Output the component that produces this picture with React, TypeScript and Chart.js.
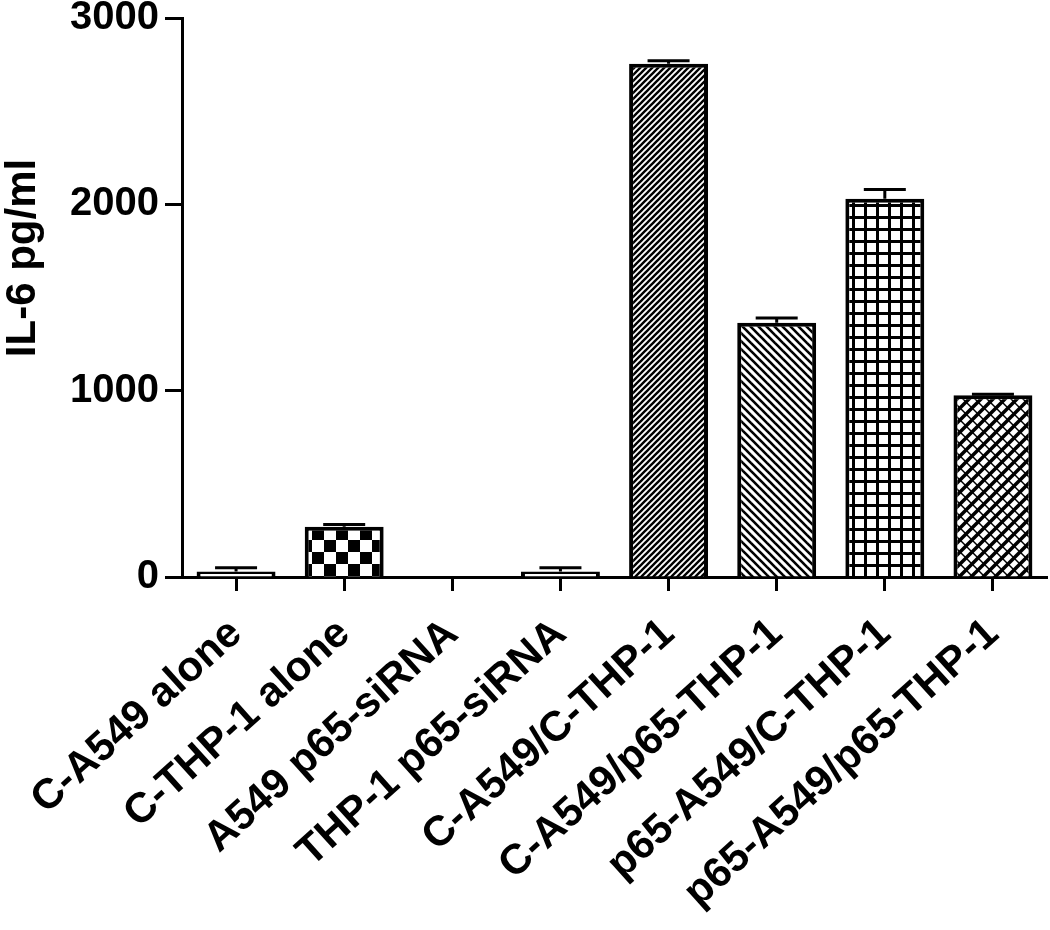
import React, { useEffect, useRef } from "react";
import { Chart, registerables } from "chart.js";

Chart.register(...registerables);

const categories = [
  "C-A549 alone",
  "C-THP-1 alone",
  "A549 p65-siRNA",
  "THP-1 p65-siRNA",
  "C-A549/C-THP-1",
  "C-A549/p65-THP-1",
  "p65-A549/C-THP-1",
  "p65-A549/p65-THP-1",
];
const values = [30, 270, 0, 30, 2755, 1365, 2030, 975];
const errors = [20, 12, 0, 20, 15, 25, 50, 6];
const fills = ["none", "checker", "none", "none", "fineDiag", "backDiag", "grid", "cross"];
const yTicks = [0, 1000, 2000, 3000];
const yTitle = "IL-6 pg/ml";

const FONT = "'Liberation Sans', Arial, Helvetica, sans-serif";

function makePattern(kind: string): CanvasPattern | string {
  if (kind === "none") return "#ffffff";
  const c = document.createElement("canvas");
  const ctx = c.getContext("2d")!;
  const line = (x1: number, y1: number, x2: number, y2: number, w: number) => {
    ctx.lineWidth = w;
    ctx.beginPath();
    ctx.moveTo(x1, y1);
    ctx.lineTo(x2, y2);
    ctx.stroke();
  };
  ctx.strokeStyle = "#000";
  if (kind === "checker") {
    c.width = c.height = 24;
    ctx.fillStyle = "#fff";
    ctx.fillRect(0, 0, 24, 24);
    ctx.fillStyle = "#000";
    ctx.fillRect(0, 0, 12, 12);
    ctx.fillRect(12, 12, 12, 12);
  } else if (kind === "fineDiag") {
    const s = 6;
    c.width = c.height = s;
    ctx.fillStyle = "#fff";
    ctx.fillRect(0, 0, s, s);
    line(-1, s + 1, s + 1, -1, 2.4);
    line(-2, 2, 2, -2, 2.4);
    line(s - 2, s + 2, s + 2, s - 2, 2.4);
  } else if (kind === "backDiag") {
    const s = 8;
    c.width = c.height = s;
    ctx.fillStyle = "#fff";
    ctx.fillRect(0, 0, s, s);
    line(-1, -1, s + 1, s + 1, 2.6);
    line(-2, s - 2, 2, s + 2, 2.6);
    line(s - 2, -2, s + 2, 2, 2.6);
  } else if (kind === "grid") {
    const s = 12;
    c.width = c.height = s;
    ctx.fillStyle = "#fff";
    ctx.fillRect(0, 0, s, s);
    ctx.fillStyle = "#000";
    ctx.fillRect(0, 0, s, 3);
    ctx.fillRect(0, 0, 3, s);
  } else {
    const s = 12;
    c.width = c.height = s;
    ctx.fillStyle = "#fff";
    ctx.fillRect(0, 0, s, s);
    line(-1, s + 1, s + 1, -1, 3.5);
    line(-3, 3, 3, -3, 3.5);
    line(s - 3, s + 3, s + 3, s - 3, 3.5);
    line(-1, -1, s + 1, s + 1, 1.5);
    line(-3, s - 3, 3, s + 3, 1.5);
    line(s - 3, -3, s + 3, 3, 1.5);
  }
  return ctx.createPattern(c, "repeat")!;
}

const errorBarPlugin = {
  id: "errorBars",
  afterDatasetsDraw(chart: any) {
    const ctx = chart.ctx;
    const meta = chart.getDatasetMeta(0);
    const y = chart.scales.y;
    ctx.save();
    ctx.strokeStyle = "#000";
    ctx.lineWidth = 3;
    meta.data.forEach((bar: any, i: number) => {
      if (!values[i]) return;
      const yv = y.getPixelForValue(values[i]);
      const yt = y.getPixelForValue(values[i] + errors[i]);
      ctx.beginPath();
      ctx.moveTo(bar.x, yv);
      ctx.lineTo(bar.x, yt);
      ctx.moveTo(bar.x - 21, yt);
      ctx.lineTo(bar.x + 21, yt);
      ctx.stroke();
    });
    ctx.restore();
  },
};

const yTitlePlugin = {
  id: "yTitle",
  afterDraw(chart: any) {
    const ctx = chart.ctx;
    ctx.save();
    ctx.translate(23, 258);
    ctx.rotate(-Math.PI / 2);
    ctx.font = `bold 42px ${FONT}`;
    ctx.fillStyle = "#000";
    ctx.textAlign = "center";
    ctx.textBaseline = "middle";
    ctx.fillText(yTitle, 0, 0);
    ctx.restore();
  },
};

export default function App() {
  const ref = useRef<HTMLCanvasElement>(null);
  useEffect(() => {
    if (!ref.current) return;
    const chart = new Chart(ref.current, {
      type: "bar",
      data: {
        labels: categories,
        datasets: [
          {
            data: values,
            backgroundColor: fills.map(makePattern) as any,
            borderColor: "#000",
            borderWidth: 4,
            barPercentage: 0.73,
            categoryPercentage: 1,
          },
        ],
      },
      options: {
        responsive: false,
        animation: false,
        devicePixelRatio: 1,
        layout: { padding: { top: 18, right: 3, left: 0, bottom: 0 } },
        plugins: { legend: { display: false }, tooltip: { enabled: false } },
        scales: {
          x: {
            offset: true,
            grid: {
              display: true,
              offset: false,
              drawOnChartArea: false,
              drawTicks: true,
              tickLength: 14,
              tickWidth: 3,
              color: "#000",
            },
            border: { display: true, width: 3, color: "#000" },
            ticks: {
              minRotation: 42,
              maxRotation: 42,
              autoSkip: false,
              padding: 18,
              color: "#000",
              font: { family: FONT, size: 42, weight: "bold" },
            },
            afterFit(scale: any) {
              scale.height = 353;
              scale.paddingRight = 0;
            },
          },
          y: {
            min: 0,
            max: 3000,
            afterBuildTicks(scale: any) {
              scale.ticks = yTicks.map((v) => ({ value: v }));
            },
            grid: {
              display: true,
              drawOnChartArea: false,
              drawTicks: true,
              tickLength: 17,
              tickWidth: 3,
              color: "#000",
            },
            border: { display: true, width: 3, color: "#000" },
            ticks: {
              padding: 6,
              color: "#000",
              font: { family: FONT, size: 40, weight: "bold" },
              callback: (v: any) => String(v),
            },
            afterFit(scale: any) {
              scale.width = 182;
              scale.paddingTop = 0;
              scale.paddingBottom = 0;
            },
          },
        },
      },
      plugins: [errorBarPlugin, yTitlePlugin],
    });
    return () => chart.destroy();
  }, []);
  return (
    <div style={{ position: "absolute", left: 0, top: 0, width: 1050, height: 930, background: "#fff" }}>
      <canvas ref={ref} width={1050} height={930} />
    </div>
  );
}
